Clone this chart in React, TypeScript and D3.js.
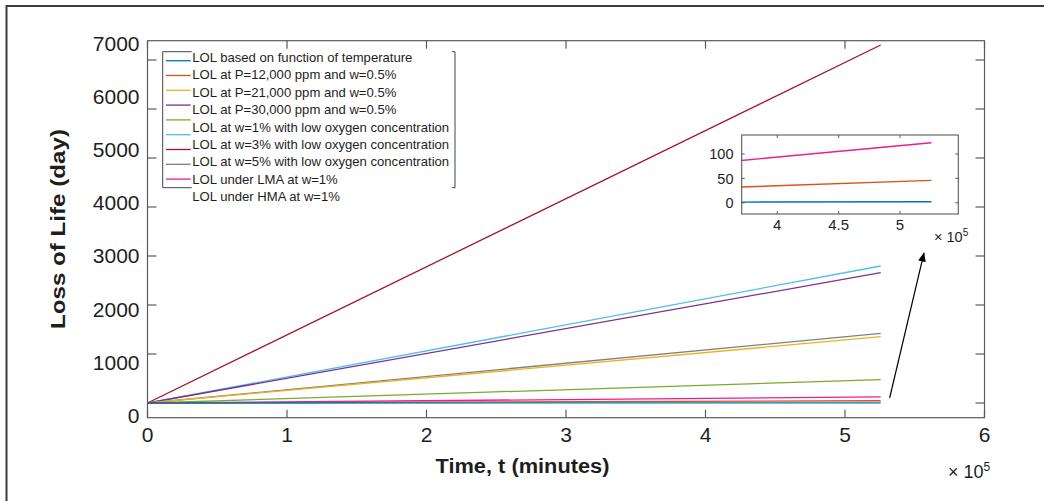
import React from "react";
import * as d3 from "d3";

// ---------- data ----------
const timeMinutes = [0, 525600];
const seriesNames = [
  "LOL based on function of temperature",
  "LOL at P=12,000 ppm and w=0.5%",
  "LOL at P=21,000 ppm and w=0.5%",
  "LOL at P=30,000 ppm and w=0.5%",
  "LOL at w=1% with low oxygen concentration",
  "LOL at w=3% with low oxygen concentration",
  "LOL at w=5% with low oxygen concentration",
  "LOL under LMA at w=1%",
  "LOL under HMA at w=1%",
];
const seriesColors = [
  "#0072BD",
  "#D95319",
  "#EDB120",
  "#7E2F8E",
  "#77AC30",
  "#4DBEEE",
  "#A2142F",
  "#808080",
  "#EC1E8F",
];
// LOL values (days) at each time in timeMinutes
const lolTemperature = [0, 2];
const lolP12 = [0, 46];
const lolP21 = [0, 1353];
const lolP30 = [0, 2659];
const lolW1 = [0, 476];
const lolW3 = [0, 2796];
const lolW5 = [0, 7306];
const lolLMA = [0, 1422];
const lolHMA = [0, 123];
const allSeries = [lolTemperature, lolP12, lolP21, lolP30, lolW1, lolW3, lolW5, lolLMA, lolHMA];
const drawOrder = [6, 5, 3, 7, 2, 4, 8, 1, 0];

const xTicks = [0, 100000, 200000, 300000, 400000, 500000, 600000];
const xTickLabels = ["0", "1", "2", "3", "4", "5", "6"];
const yTicks = [0, 1000, 2000, 3000, 4000, 5000, 6000, 7000];
const yTickLabels = ["0", "1000", "2000", "3000", "4000", "5000", "6000", "7000"];
const insetXTicks = [400000, 450000, 500000];
const insetXTickLabels = ["4", "4.5", "5"];
const insetYTicks = [0, 50, 100];
const insetYTickLabels = ["0", "50", "100"];
// arrow annotation (data units): from -> to
const arrowFrom = [532000, 102];
const arrowTo = [556600, 3060];

const FONT = "'Liberation Sans', Arial, Helvetica, sans-serif";

export default function App() {
  const W = 1044, H = 501;
  const x = d3.scaleLinear().domain([0, 600000]).range([147.5, 984.5]);
  const y = d3.scaleLinear().domain([-300, 7394]).range([417.7, 40.7]);
  // tick labels in the reference sit on their own spacing
  const yLab = d3.scaleLinear().domain([0, 7000]).range([415.7, 43]);

  const ix = d3.scaleLinear().domain([371000, 547500]).range([741.7, 958.3]);
  const iy = d3.scaleLinear().domain([-23, 139]).range([214, 135]);

  const line = d3.line<number>().x((_, i) => x(timeMinutes[i])).y((d) => y(d));
  const iline = d3.line<number>().x((_, i) => ix(timeMinutes[i])).y((d) => iy(d));

  const axisColor = "#5a5a5a";
  const textColor = "#1e1e1e";

  const [x0, x1] = x.range();
  const [yb, yt] = y.range();
  const [ix0, ix1] = ix.range();
  const [iyb, iyt] = iy.range();

  const legendLeft = 162.7, legendTop = 51.7, legendBottom = 187.7, legendRight = 455;
  const sampleY = (i: number) => 60.7 + i * 14.8;
  const labelY = (i: number) => 57.3 + i * 17.4;

  return (
    <svg width={W} height={H} style={{ position: "absolute", left: 0, top: 0, background: "#fff" }}>
      <defs>
        <clipPath id="mainClip">
          <rect x={x0} y={yt} width={x1 - x0} height={yb - yt} />
        </clipPath>
        <clipPath id="insetClip">
          <rect x={ix0} y={iyt} width={ix1 - ix0} height={iyb - iyt} />
        </clipPath>
        <marker id="arrowHead" viewBox="0 0 10 10" refX="9" refY="5" markerWidth="8" markerHeight="8" orient="auto">
          <path d="M0,1 L10,5 L0,9 z" fill="#000" />
        </marker>
      </defs>
      <rect x={0} y={0} width={W} height={H} fill="#fff" />
      {/* outer frame */}
      <rect x={6.5} y={6} width={W + 20} height={H + 20} fill="none" stroke="#3c3c3c" strokeWidth={2} />

      {/* main lines */}
      <g clipPath="url(#mainClip)">
        {drawOrder.map((k) => (
          <path key={k} d={line(allSeries[k]) || ""} fill="none" stroke={seriesColors[k]} strokeWidth={1.3} />
        ))}
      </g>

      {/* main axes box */}
      <rect x={x0} y={yt} width={x1 - x0} height={yb - yt} fill="none" stroke={axisColor} strokeWidth={1.2} />
      {xTicks.map((t) => (
        <g key={"xt" + t}>
          <line x1={x(t)} x2={x(t)} y1={yb} y2={yb - 8} stroke={axisColor} strokeWidth={1.2} />
          <line x1={x(t)} x2={x(t)} y1={yt} y2={yt + 8} stroke={axisColor} strokeWidth={1.2} />
        </g>
      ))}
      {yTicks.map((t) => (
        <g key={"yt" + t}>
          <line x1={x0} x2={x0 + 9} y1={y(t)} y2={y(t)} stroke={axisColor} strokeWidth={1.2} />
          <line x1={x1} x2={x1 - 9} y1={y(t)} y2={y(t)} stroke={axisColor} strokeWidth={1.2} />
        </g>
      ))}
      {xTicks.map((t, i) => (
        <text key={"xl" + t} x={x(t)} y={441.7} fontFamily={FONT} fontSize={21} fill={textColor} textAnchor="middle">
          {xTickLabels[i]}
        </text>
      ))}
      {yTicks.map((t, i) => (
        <text key={"yl" + t} x={139.5} y={yLab(t) + 7.5} fontFamily={FONT} fontSize={21} fill={textColor} textAnchor="end">
          {yTickLabels[i]}
        </text>
      ))}
      <text x={948} y={478} fontFamily={FONT} fontSize={18} fill={textColor}>
        × 10<tspan dy={-7} fontSize={12}>5</tspan>
      </text>

      {/* axis titles */}
      <text x={522.5} y={473} fontFamily={FONT} fontSize={20} fontWeight="bold" fill={textColor} textAnchor="middle"
        textLength={174} lengthAdjust="spacingAndGlyphs">
        Time, t (minutes)
      </text>
      <text transform="translate(65,229) rotate(-90)" fontFamily={FONT} fontSize={20.5} fontWeight="bold" fill={textColor}
        textAnchor="middle" textLength={200} lengthAdjust="spacingAndGlyphs">
        Loss of Life (day)
      </text>

      {/* legend */}
      <g>
        <line x1={legendLeft} x2={legendLeft} y1={legendTop} y2={legendBottom} stroke="#444" strokeWidth={1} />
        <line x1={legendLeft} x2={191.7} y1={legendTop} y2={legendTop} stroke="#444" strokeWidth={1} />
        <line x1={legendLeft} x2={191.7} y1={legendBottom} y2={legendBottom} stroke="#444" strokeWidth={1} />
        <line x1={legendRight} x2={legendRight} y1={legendTop} y2={legendBottom} stroke="#444" strokeWidth={1} />
        <line x1={legendRight - 3} x2={legendRight} y1={legendTop} y2={legendTop} stroke="#444" strokeWidth={1} />
        <line x1={legendRight - 3} x2={legendRight} y1={legendBottom} y2={legendBottom} stroke="#444" strokeWidth={1} />
        {seriesColors.map((c, i) => (
          <line key={"ls" + i} x1={166} x2={190.7} y1={sampleY(i)} y2={sampleY(i)} stroke={c} strokeWidth={1.3} />
        ))}
        {seriesNames.map((n, i) => (
          <text key={"ln" + i} x={192.3} y={labelY(i) + 4.7} fontFamily={FONT} fontSize={13.1} fill={textColor}>
            {n}
          </text>
        ))}
      </g>

      {/* arrow */}
      <line x1={x(arrowFrom[0])} y1={y(arrowFrom[1])} x2={x(arrowTo[0])} y2={y(arrowTo[1])} stroke="#000" strokeWidth={1.2}
        markerEnd="url(#arrowHead)" />

      {/* inset */}
      <rect x={ix0} y={iyt} width={ix1 - ix0} height={iyb - iyt} fill="#fff" stroke="none" />
      <g clipPath="url(#insetClip)">
        {drawOrder.map((k) => (
          <path key={"i" + k} d={iline(allSeries[k]) || ""} fill="none" stroke={seriesColors[k]} strokeWidth={1.4} />
        ))}
      </g>
      <rect x={ix0} y={iyt} width={ix1 - ix0} height={iyb - iyt} fill="none" stroke={axisColor} strokeWidth={1.1} />
      {insetXTicks.map((t, i) => (
        <g key={"ixt" + t}>
          <line x1={ix(t)} x2={ix(t)} y1={iyb} y2={iyb - 3} stroke={axisColor} />
          <line x1={ix(t)} x2={ix(t)} y1={iyt} y2={iyt + 3} stroke={axisColor} />
          <text x={ix(t)} y={229.5} fontFamily={FONT} fontSize={15} fill={textColor} textAnchor="middle">
            {insetXTickLabels[i]}
          </text>
        </g>
      ))}
      {insetYTicks.map((t, i) => (
        <g key={"iyt" + t}>
          <line x1={ix0} x2={ix0 + 3} y1={iy(t)} y2={iy(t)} stroke={axisColor} />
          <line x1={ix1} x2={ix1 - 3} y1={iy(t)} y2={iy(t)} stroke={axisColor} />
          <text x={733.5} y={iy(t) + 5.2} fontFamily={FONT} fontSize={14.5} fill={textColor} textAnchor="end">
            {insetYTickLabels[i]}
          </text>
        </g>
      ))}
      <text x={934} y={241.7} fontFamily={FONT} fontSize={14.5} fill={textColor}>
        × 10<tspan dy={-6} fontSize={10}>5</tspan>
      </text>
    </svg>
  );
}
